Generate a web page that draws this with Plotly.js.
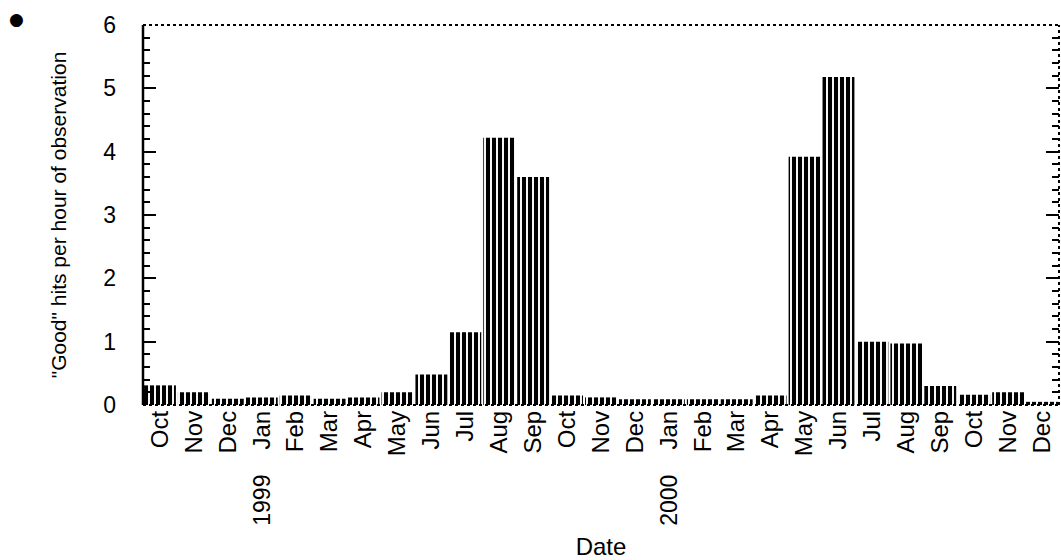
<!DOCTYPE html>
<html>
<head>
<meta charset="utf-8">
<script src="https://cdn.plot.ly/plotly-3.0.1.min.js"></script>
<style>html,body{margin:0;padding:0;background:#fff;}#chart{width:1061px;height:560px;}</style>
</head>
<body>
<div id="chart"></div>
<script>
// Category keys (month-year), tick labels and values
const categories = ["1998-10","1998-11","1998-12","1999-01","1999-02","1999-03","1999-04","1999-05","1999-06","1999-07","1999-08","1999-09","1999-10","1999-11","1999-12","2000-01","2000-02","2000-03","2000-04","2000-05","2000-06","2000-07","2000-08","2000-09","2000-10","2000-11","2000-12"];
const monthLabels = ["Oct","Nov","Dec","Jan","Feb","Mar","Apr","May","Jun","Jul","Aug","Sep","Oct","Nov","Dec","Jan","Feb","Mar","Apr","May","Jun","Jul","Aug","Sep","Oct","Nov","Dec"];
const hitsPerHour = [0.31,0.2,0.1,0.12,0.15,0.1,0.12,0.2,0.48,1.15,4.22,3.6,0.15,0.12,0.09,0.09,0.09,0.09,0.15,3.92,5.18,1.0,0.97,0.3,0.16,0.2,0.05];
const yearLabels = ["1999","2000"];
const yearAt = ["1999-01","2000-01"];

const FONT = "Liberation Sans, Arial, sans-serif";

const trace = {
  type: "bar",
  x: categories,
  y: hitsPerHour,
  marker: {
    color: "white",
    line: {width: 0},
    pattern: {shape: "|", fgcolor: "black", bgcolor: "white", size: 6, solidity: 0.68}
  },
  hoverinfo: "x+y"
};

const annotations = yearLabels.map((t, i) => ({
  text: t, x: yearAt[i], xref: "x", y: -0.25, yref: "paper",
  textangle: -90, showarrow: false, xanchor: "center", yanchor: "middle",
  font: {family: FONT, size: 23, color: "black"}
}));
annotations.push({
  text: "●", xref: "paper", yref: "paper",
  x: (16 - 143) / 916, y: (405 - 19) / 380,
  showarrow: false, xanchor: "center", yanchor: "middle",
  font: {family: "DejaVu Sans, sans-serif", size: 17, color: "black"}
});

const layout = {
  width: 1061, height: 560,
  margin: {l: 143, r: 2, t: 25, b: 155},
  paper_bgcolor: "white", plot_bgcolor: "white",
  showlegend: false,
  bargap: 0.06,
  font: {family: FONT, color: "black"},
  xaxis: {
    type: "category",
    tickmode: "array", tickvals: categories, ticktext: monthLabels,
    tickangle: -90, ticks: "", showgrid: false, zeroline: false, showline: false,
    range: [-0.5, 26.5],
    tickfont: {family: FONT, size: 24, color: "black"},
    title: {text: "Date", font: {family: FONT, size: 24, color: "black"}, standoff: 84}
  },
  yaxis: {
    range: [0, 6], dtick: 1, tick0: 0,
    ticks: "inside", ticklen: 13, tickwidth: 2, tickcolor: "black",
    minor: {dtick: 0.2, ticks: "inside", ticklen: 7, tickwidth: 2, tickcolor: "black", showgrid: false},
    showgrid: false, zeroline: false, showline: false, mirror: "ticks",
    ticklabelstandoff: 26,
    tickfont: {family: FONT, size: 23, color: "black"},
    title: {text: "\"Good\" hits per hour of observation", font: {family: FONT, size: 21, color: "black"}, standoff: 30}
  },
  shapes: [
    {type: "line", xref: "paper", yref: "paper", x0: 0, x1: 0, y0: 0, y1: 1, line: {color: "black", width: 2.5}},
    {type: "line", xref: "paper", yref: "paper", x0: 0, x1: 1, y0: 1, y1: 1, line: {color: "black", width: 2, dash: "dot"}},
    {type: "line", xref: "paper", yref: "paper", x0: 1, x1: 1, y0: 0, y1: 1, line: {color: "black", width: 2, dash: "dot"}},
    {type: "line", xref: "paper", yref: "paper", x0: 0, x1: 1, y0: 0, y1: 0, line: {color: "black", width: 2, dash: "dot"}}
  ],
  annotations: annotations
};

Plotly.newPlot("chart", [trace], layout, {displayModeBar: false, responsive: false});
</script>
</body>
</html>
